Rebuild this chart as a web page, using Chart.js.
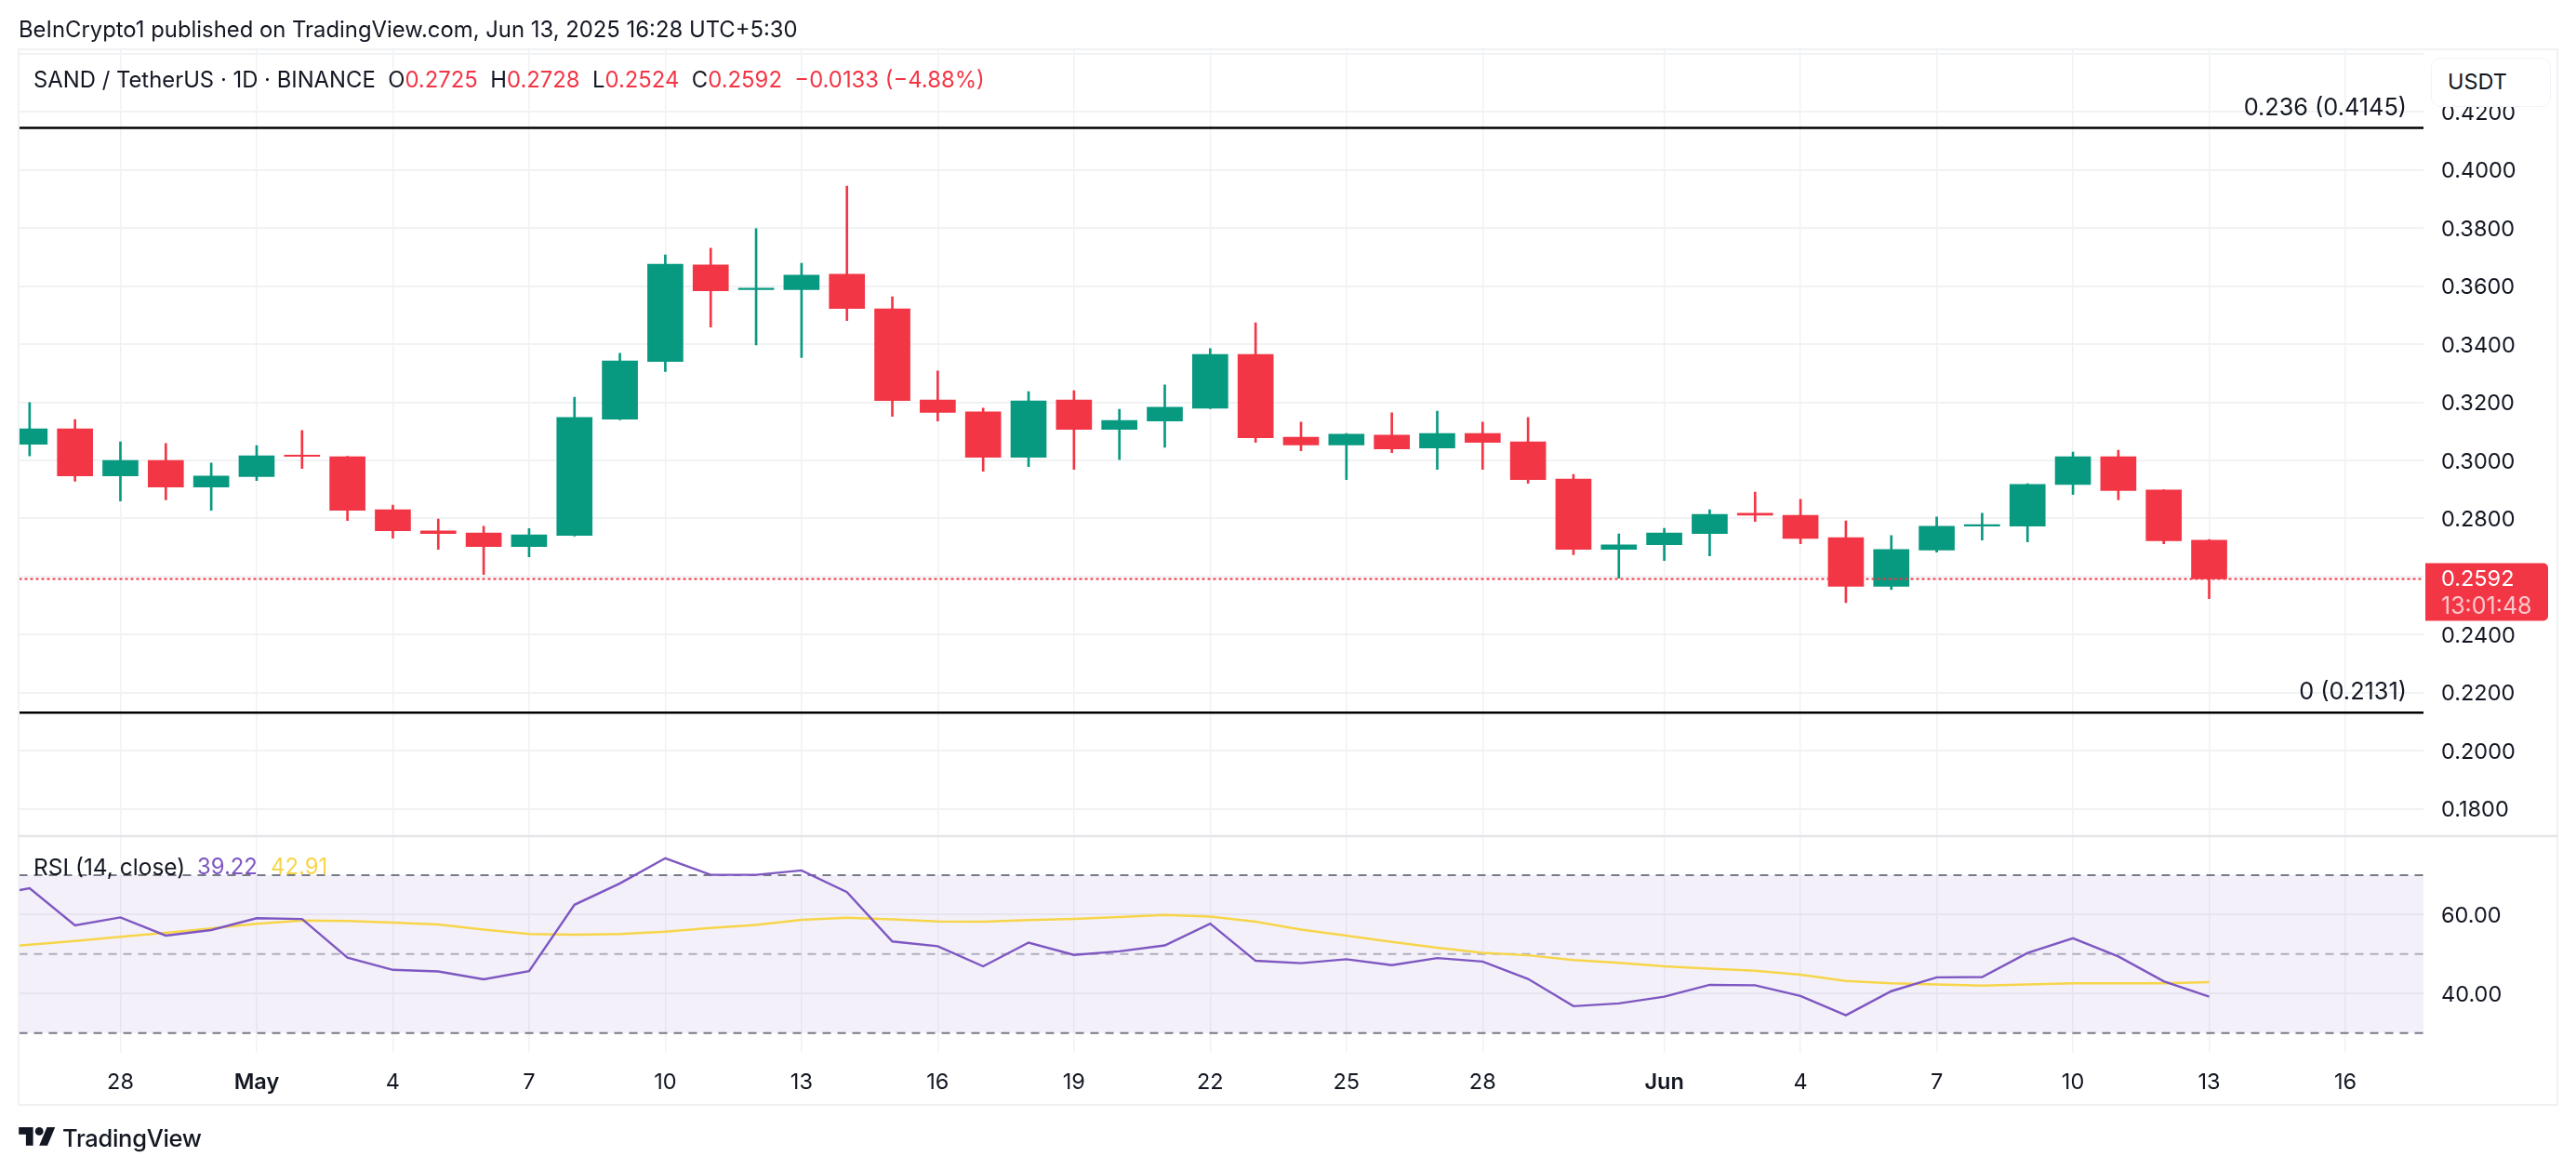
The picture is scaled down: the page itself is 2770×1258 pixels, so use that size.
<!DOCTYPE html>
<html>
<head>
<meta charset="utf-8">
<script src="https://cdn.jsdelivr.net/npm/chart.js@4/dist/chart.umd.js"></script>
<style>
html,body{margin:0;padding:0;background:#fff;width:2770px;height:1258px;overflow:hidden}
body{position:relative;font-family:Inter,sans-serif;color:#131722}
canvas{position:absolute;left:0;top:0;display:block}
.t{position:absolute;white-space:pre;font-size:23.85px;line-height:30px;z-index:2}
.r{color:#F23645}
#usdt{position:absolute;left:2614px;top:62px;width:127px;height:51px;background:#fff;border:1px solid #f0f3fa;border-radius:10px;z-index:2}
#usdt span{position:absolute;left:17px;top:10px;font-size:23.5px;line-height:30px}
#logo{position:absolute;left:20px;top:1212px;z-index:2}
</style>
</head>
<body>
<canvas id="c" width="2770" height="1258"></canvas>
<div class="t" id="pub" style="left:20px;top:17px">BeInCrypto1 published on TradingView.com, Jun 13, 2025 16:28 UTC+5:30</div>
<div class="t" id="hdr" style="left:36px;top:71px">SAND / TetherUS · 1D · BINANCE  O<span class="r">0.2725</span>  H<span class="r">0.2728</span>  L<span class="r">0.2524</span>  C<span class="r">0.2592</span>  <span class="r">−0.0133 (−4.88%)</span></div>
<div id="usdt"><span>USDT</span></div>
<div class="t" id="rsiLbl" style="left:36px;top:917px;font-size:24.5px">RSI (14, close)</div>
<div class="t" style="left:212px;top:917px;color:#7E57C2">39.22</div>
<div class="t" style="left:291px;top:917px;color:#F7D54A">42.91</div>
<svg id="logo" width="40" height="22" viewBox="0 0 36 20"><path fill="#131722" d="M14 18H7V7H0V0h14v18zM28 18h-8l7.5-18h8L28 18z"/><circle fill="#131722" cx="20" cy="4" r="4"/></svg>
<div class="t" style="left:67px;top:1209px;font-size:25.5px;font-weight:500;letter-spacing:-.3px">TradingView</div>
<script>
// Daily candles, 26 Apr – 13 Jun 2025 (index 0 = 26 Apr)
const opens  = [.3056,.3109,.2947,.3000,.2908,.2944,.3018,.3013,.2830,.2757,.2750,.2703,.2742,.3142,.3341,.3673,.3588,.3588,.3641,.3522,.3208,.3167,.3011,.3208,.3107,.3136,.3180,.3365,.3080,.3053,.3087,.3043,.3093,.3064,.2936,.2694,.2710,.2748,.2818,.2811,.2734,.2566,.2691,.2774,.2774,.2917,.3013,.2898,.2725];
const highs  = [.3199,.3141,.3064,.3058,.2991,.3051,.3103,.3014,.2846,.2798,.2773,.2765,.3218,.3369,.3708,.3731,.3798,.3679,.3945,.3564,.3308,.3180,.3237,.3240,.3176,.3260,.3385,.3474,.3132,.3093,.3164,.3170,.3132,.3148,.2952,.2747,.2766,.2830,.2891,.2866,.2792,.2741,.2805,.2818,.2920,.3029,.3035,.2899,.2728];
const lows   = [.3016,.2928,.2860,.2864,.2828,.2931,.2972,.2793,.2732,.2694,.2607,.2668,.2739,.3140,.3306,.3459,.3398,.3354,.3482,.3152,.3136,.2963,.2979,.2969,.3003,.3045,.3178,.3062,.3033,.2934,.3027,.2969,.2969,.2921,.2675,.2594,.2655,.2671,.2790,.2713,.2510,.2555,.2684,.2726,.2719,.2883,.2864,.2713,.2524];
const closes = [.3109,.2947,.3000,.2908,.2946,.3016,.3014,.2828,.2758,.2748,.2703,.2744,.3148,.3343,.3676,.3584,.3593,.3638,.3523,.3206,.3165,.3011,.3205,.3107,.3138,.3183,.3365,.3078,.3053,.3090,.3040,.3093,.3062,.2934,.2694,.2709,.2750,.2814,.2811,.2731,.2566,.2693,.2773,.2779,.2917,.3013,.2896,.2723,.2592];
// RSI and its average, starting one day before the first candle (25 Apr)
const rsiValues = [64.6,66.7,57.3,59.3,54.7,56.1,59.1,58.9,49.1,46.0,45.6,43.6,45.7,62.5,67.9,74.3,70.1,70.1,71.2,65.7,53.2,52.0,46.9,52.9,49.8,50.7,52.2,57.7,48.3,47.7,48.7,47.2,49.0,48.1,43.7,36.8,37.5,39.2,42.2,42.1,39.4,34.5,40.6,44.1,44.2,50.3,54.0,49.4,43.1,39.22];
const rsiAverage = [51.4,52.4,53.3,54.4,55.4,56.5,57.7,58.5,58.4,58.0,57.5,56.2,55.1,54.9,55.1,55.7,56.6,57.4,58.7,59.2,58.8,58.3,58.2,58.6,58.9,59.4,59.9,59.5,58.2,56.2,54.7,53.1,51.6,50.3,49.7,48.5,47.8,46.9,46.3,45.8,44.8,43.2,42.6,42.3,42.0,42.3,42.6,42.6,42.6,42.91];
const timeTickDays = [2,5,8,11,14,17,20,23,26,29,32,36,39,42,45,48,51];
const timeTickLabels = ['28','May','4','7','10','13','16','19','22','25','28','Jun','4','7','10','13','16'];
const boldTimeLabels = ['May','Jun'];
const priceTicks = [.18,.20,.22,.24,.26,.28,.30,.32,.34,.36,.38,.40,.42,.44];
const rsiTicks = [40,60];
const rsiLevels = [70,50,30];
const fibValues = [.4145,.2131];
const fibLabels = ['0.236 (0.4145)','0 (0.2131)'];
const lastPrice = .2592;
const countdown = '13:01:48';

const GREEN='#089981', RED='#F23645', GRID='#f1f2f4', FONT='Inter, sans-serif';
const XMIN=-0.232, XMAX=52.72;
const candleColors = opens.map((o,i)=>closes[i]>=o?GREEN:RED);
const hLine = (v)=>[{x:XMIN,y:v},{x:XMAX,y:v}];

const frame = {
  id:'frame',
  afterDraw(ch){
    const c=ch.ctx, y=ch.scales.y, x=ch.scales.x;
    c.save();
    c.strokeStyle='#f0f1f3'; c.lineWidth=2;
    c.strokeRect(x.left-.5,y.top,ch.width-20-x.left+.5,x.bottom-y.top);
    c.strokeStyle='#e3e5e8'; c.lineWidth=2.5;
    c.beginPath(); c.moveTo(x.left-.5,y.bottom); c.lineTo(ch.width-20,y.bottom); c.stroke();
    // Fibonacci labels
    c.fillStyle='#131722'; c.font='25.3px '+FONT; c.textAlign='right'; c.textBaseline='middle';
    fibValues.forEach((v,i)=>c.fillText(fibLabels[i],x.right-18,y.getPixelForValue(v)-21.5));
    // Last price tag
    const py=y.getPixelForValue(lastPrice), tx=x.right+2, ty=py-17;
    c.fillStyle=RED; c.beginPath(); c.roundRect(tx,ty,132,62,[0,5,5,0]); c.fill();
    c.textAlign='left'; c.fillStyle='#fff'; c.font='23.5px '+FONT;
    c.fillText(lastPrice.toFixed(4),x.right+19,py+1);
    c.fillStyle='rgba(255,255,255,.72)'; c.font='25px '+FONT;
    c.fillText(countdown,x.right+19,py+30);
    c.restore();
  }
};

const body = opens.map((o,i)=>({x:i,y:[o,closes[i]]}));
const wick = lows.map((l,i)=>({x:i,y:[l,highs[i]]}));

new Chart(document.getElementById('c'),{
  type:'bar',
  data:{datasets:[
    {type:'bar',data:wick,backgroundColor:candleColors,barThickness:2,grouped:false,order:5,yAxisID:'y',borderSkipped:false},
    {type:'bar',data:body,backgroundColor:candleColors,barThickness:38,grouped:false,order:4,yAxisID:'y',borderSkipped:false},
    {type:'line',data:hLine(lastPrice),borderColor:RED,borderWidth:2,borderDash:[3,3],pointRadius:0,order:3,yAxisID:'y'},
    {type:'line',data:hLine(fibValues[0]),borderColor:'#000',borderWidth:2.5,pointRadius:0,order:2,yAxisID:'y'},
    {type:'line',data:hLine(fibValues[1]),borderColor:'#000',borderWidth:2.5,pointRadius:0,order:2,yAxisID:'y'},
    {type:'line',data:hLine(rsiLevels[0]),borderColor:'#787b86',borderWidth:2,borderDash:[9,7],pointRadius:0,order:6,yAxisID:'y2',
      fill:{value:rsiLevels[2]},backgroundColor:'rgba(126,87,194,.09)'},
    {type:'line',data:hLine(rsiLevels[1]),borderColor:'rgba(120,123,134,.55)',borderWidth:2,borderDash:[9,7],pointRadius:0,order:6,yAxisID:'y2'},
    {type:'line',data:hLine(rsiLevels[2]),borderColor:'#787b86',borderWidth:2,borderDash:[9,7],pointRadius:0,order:6,yAxisID:'y2'},
    {type:'line',data:rsiAverage.map((v,i)=>({x:i-1,y:v})),borderColor:'#F7D54A',borderWidth:2.5,pointRadius:0,tension:0,order:1,yAxisID:'y2'},
    {type:'line',data:rsiValues.map((v,i)=>({x:i-1,y:v})),borderColor:'#7E57C2',borderWidth:2.4,pointRadius:0,tension:0,order:0,yAxisID:'y2'}
  ]},
  options:{
    responsive:false,animation:false,devicePixelRatio:1,
    layout:{padding:{left:20.5,top:53,right:20,bottom:70}},
    plugins:{legend:{display:false},tooltip:{enabled:false}},
    scales:{
      x:{type:'linear',position:'bottom',min:XMIN,max:XMAX,offset:false,
        afterBuildTicks(s){s.ticks=timeTickDays.map(v=>({value:v}));},
        afterFit(s){s.height=56;},
        grid:{color:GRID,lineWidth:1.5,drawTicks:false,offset:false},border:{display:false},
        ticks:{autoSkip:false,maxRotation:0,padding:18,color:'#131722',
          font:(ctx)=>({family:FONT,size:23.5,weight:boldTimeLabels.includes(timeTickLabels[ctx.index])?'600':'400'}),
          callback:(v,i)=>timeTickLabels[i]}},
      y:{type:'linear',position:'right',stack:'panes',stackWeight:846,weight:1,min:.1706,max:.4416,
        afterBuildTicks(s){s.ticks=priceTicks.map(v=>({value:v}));},
        afterFit(s){s.width=144;},
        grid:{color:GRID,lineWidth:2,drawTicks:false},border:{display:false},
        ticks:{padding:19,labelOffset:1.5,color:'#131722',font:{family:FONT,size:23.5},
          callback:(v)=>v>.43?'':Number(v).toFixed(4)}},
      y2:{type:'linear',position:'right',stack:'panes',stackWeight:233,weight:2,min:24.98,max:79.9,
        afterBuildTicks(s){s.ticks=rsiTicks.map(v=>({value:v}));},
        afterFit(s){s.width=144;},
        grid:{color:GRID,lineWidth:2,drawTicks:false},border:{display:false},
        ticks:{padding:19,labelOffset:1.5,color:'#131722',font:{family:FONT,size:23.5},
          callback:(v)=>Number(v).toFixed(2)}}
    }
  },
  plugins:[frame]
});
</script>
</body>
</html>
